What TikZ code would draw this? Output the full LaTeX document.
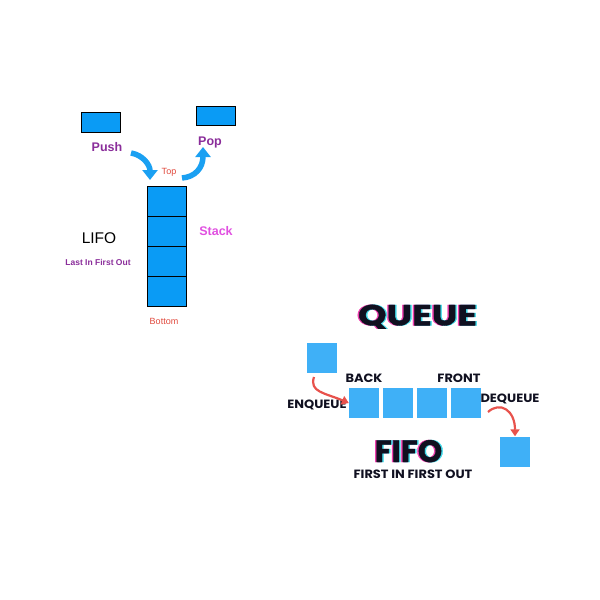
\documentclass[tikz,border=0pt]{standalone}
\usepackage{fontspec}
\setmainfont{Liberation Sans}
\newfontfamily\qfont{Poppins}[FakeStretch=1.08]
\newfontfamily\titlefont{Poppins}[FakeStretch=1.25, FakeBold=1.2]
\newfontfamily\fifofont{Poppins}[FakeBold=1.2]
\usetikzlibrary{arrows.meta}
\definecolor{stackblue}{HTML}{0A9BF5}
\definecolor{queueblue}{HTML}{3FB0F7}
\definecolor{arrowblue}{HTML}{1AA0F2}
\definecolor{labelpurple}{HTML}{8A2D9A}
\definecolor{stackpink}{HTML}{E050E0}
\definecolor{labelred}{HTML}{E0483C}
\definecolor{arrowred}{HTML}{E8524C}
\definecolor{shadowpink}{HTML}{F040B0}
\definecolor{shadowcyan}{HTML}{40D8E8}
\definecolor{inkdark}{HTML}{101020}
% title with pink/cyan ghost copies
\newcommand\glitchtext[1]{\makebox[0pt][l]{\kern-1.5pt\textcolor{shadowpink}{#1}}%
  \makebox[0pt][l]{\kern1.5pt\textcolor{shadowcyan}{#1}}\textcolor{inkdark}{#1}}

\tikzset{
  cell/.style={draw=black, line width=0.8pt, fill=stackblue, inner sep=0pt,
    minimum width=39pt, minimum height=30pt},
  qcell/.style={fill=queueblue, inner sep=0pt, minimum size=30pt},
  bluearrow/.style={draw=arrowblue, line width=5.5pt,
    -{Triangle[length=10pt,width=15pt]}},
  redarrow/.style={draw=arrowred, line width=2.2pt,
    -{Triangle[length=7pt,width=9pt]}},
  qtext/.style={font=\qfont\bfseries\fontsize{12}{14}\selectfont, text=inkdark, inner sep=0pt},
  titletext/.style={inner sep=0pt, text depth=0pt}
}

\begin{document}
\begin{tikzpicture}[x=1pt,y=-1pt]
\useasboundingbox (0,0) rectangle (600,600);

%% stack
\node[cell, minimum height=20pt] (pushbox) at (100.5,122) {};
\node[cell, minimum height=19pt] (popbox) at (215.5,115.5) {};
\node[cell] (s1) at (166.5,201) {};
\node[cell] (s2) at (166.5,231) {};
\node[cell] (s3) at (166.5,261) {};
\node[cell] (s4) at (166.5,291) {};

\node[text=labelpurple, font=\bfseries\fontsize{12.5}{14}\selectfont] (pushlbl) at (107,147) {Push};
\node[text=labelpurple, font=\bfseries\fontsize{12.5}{14}\selectfont] (poplbl) at (210,142) {Pop};
\node[text=labelred, font=\fontsize{9}{10}\selectfont] (toplbl) at (169,172) {Top};
\node[text=labelred, font=\fontsize{9}{10}\selectfont] (bottomlbl) at (164,321) {Bottom};
\node[font=\fontsize{15.5}{18}\selectfont] (lifo) at (99,238) {LIFO};
\node[text=labelpurple, font=\bfseries\fontsize{8.5}{10}\selectfont] (lifolong) at (98,262) {Last In First Out};
\node[text=stackpink, font=\bfseries\fontsize{12.5}{14}\selectfont] (stacklbl) at (216,231) {Stack};

\coordinate (pushfrom) at (131,153);
\coordinate (pushto) at (150,180);
\coordinate (popfrom) at (182,178);
\coordinate (popto) at (203,147);
\draw[bluearrow] (pushfrom) .. controls (143,155) and (150,165) .. (pushto);
\draw[bluearrow] (popfrom) .. controls (195,177) and (203,168) .. (popto);

%% queue
\node[titletext, font=\titlefont\bfseries\fontsize{29}{32}\selectfont]
  (queuetitle) at (417.5,315) {\glitchtext{QUEUE}};
\node[titletext, font=\fifofont\bfseries\fontsize{31}{34}\selectfont]
  (fifotitle) at (408.5,451) {\glitchtext{FIFO}};

\node[qcell] (incoming) at (321.5,358) {};
\node[qcell] (q1) at (364,403) {};
\node[qcell] (q2) at (398,403) {};
\node[qcell] (q3) at (432,403) {};
\node[qcell] (q4) at (466,403) {};
\node[qcell] (outgoing) at (515,451.5) {};

\node[qtext] (backlbl) at (364,378) {BACK};
\node[qtext] (frontlbl) at (459,378) {FRONT};
\node[qtext] (enqlbl) at (317,405) {ENQUEUE};
\node[qtext] (deqlbl) at (510,399) {DEQUEUE};
\node[qtext, font=\qfont\bfseries\fontsize{12}{13}\selectfont] (fifolong) at (413,474) {FIRST IN FIRST OUT};

\coordinate (enqfrom) at (314,377);
\coordinate (deqfrom) at (488,412);
\draw[redarrow] (enqfrom) .. controls (309,392) and (325,393) .. (q1.west);
\draw[redarrow] (deqfrom) .. controls (500,401) and (515,410) .. (outgoing.north);
\end{tikzpicture}
\end{document}
